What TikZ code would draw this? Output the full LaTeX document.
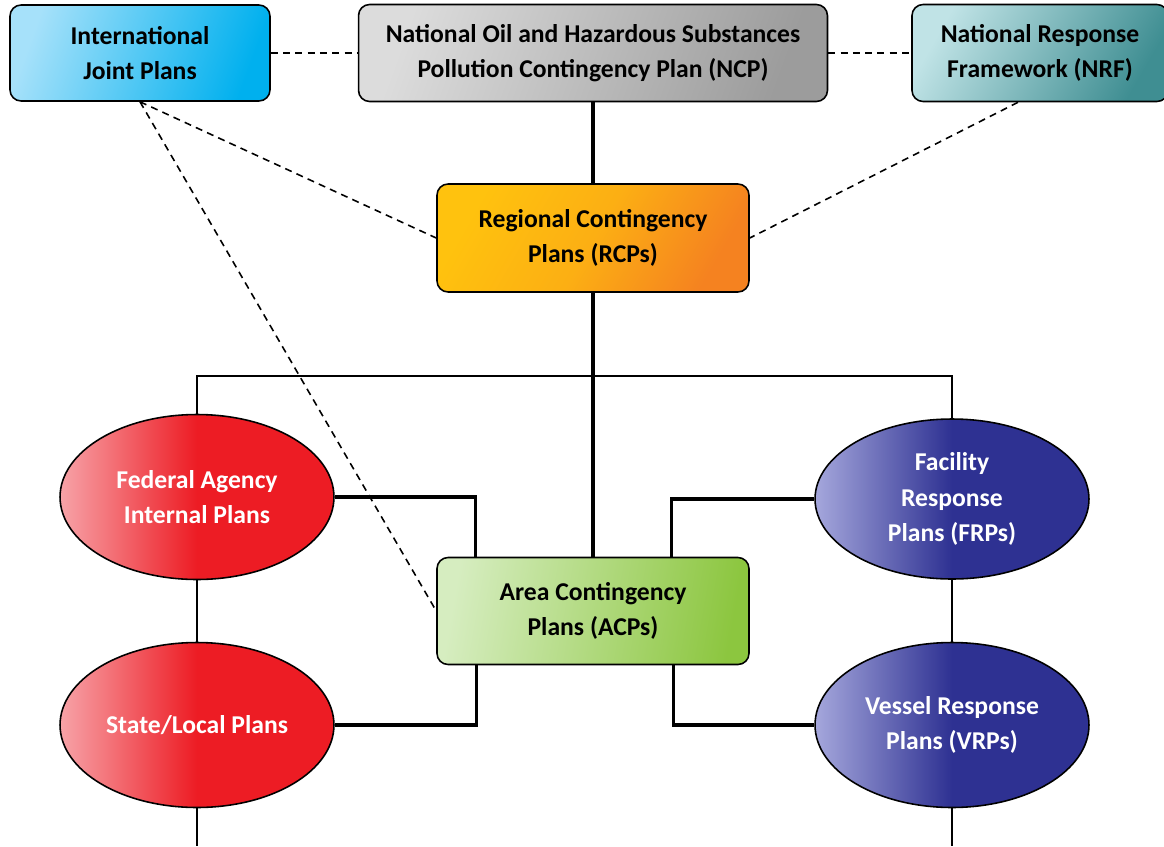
\documentclass[tikz,border=0pt]{standalone}
\usepackage{fontspec}
\setmainfont{Carlito}
\usetikzlibrary{shapes.geometric}

\definecolor{ijpA}{HTML}{A6E1FA}
\definecolor{ijpB}{HTML}{00B0EE}
\definecolor{ncpA}{HTML}{DCDCDC}
\definecolor{ncpB}{HTML}{9C9C9C}
\definecolor{nrfA}{HTML}{C0E3E6}
\definecolor{nrfB}{HTML}{3F8E92}
\definecolor{rcpA}{HTML}{FFC20E}
\definecolor{rcpB}{HTML}{F58220}
\definecolor{acpA}{HTML}{D6EDC0}
\definecolor{acpB}{HTML}{8CC63F}
\definecolor{redA}{HTML}{F7A3A8}
\definecolor{redB}{HTML}{ED1C24}
\definecolor{bluA}{HTML}{A5A7DC}
\definecolor{bluB}{HTML}{2E3192}

\newcommand{\plantext}{\fontsize{14.6}{20}\selectfont\bfseries}

\tikzset{
  planbox/.style={draw, line width=0.9pt, rounded corners=0.22cm, align=center,
    inner sep=0pt, font=\plantext},
  planoval/.style={ellipse, draw, line width=0.9pt, align=center, inner sep=0pt,
    minimum width=5.48cm, minimum height=3.3cm, text=white, font=\plantext},
  dashline/.style={line width=0.9pt, dash pattern=on 4pt off 3pt},
  thinline/.style={line width=0.6pt},
  thickline/.style={line width=1.8pt},
}

\begin{document}
\begin{tikzpicture}[x=0.02cm, y=-0.02cm]
                \useasboundingbox (0,0) rectangle (1164,846);
                \clip (0,0) rectangle (1164,846);
                % top row
                \node[planbox, minimum width=5.2cm, minimum height=1.92cm,
                  left color=ijpA, right color=ijpB, shading angle=70] (IJP) at (140,53) {International\\Joint Plans};
                \node[planbox, minimum width=9.38cm, minimum height=1.94cm,
                  left color=ncpA, right color=ncpB, shading angle=70] (NCP) at (593,53) {National Oil and Hazardous Substances\\Pollution Contingency Plan (NCP)};
                \node[planbox, minimum width=5.12cm, minimum height=1.94cm,
                  left color=nrfA, right color=nrfB, shading angle=60] (NRF) at (1040,53) {National Response\\Framework (NRF)};
                % middle boxes
                \node[planbox, minimum width=6.24cm, minimum height=2.16cm,
                  left color=rcpA, right color=rcpB, middle color=rcpA!70!rcpB, shading angle=60] (RCP) at (593,238) {Regional Contingency\\Plans (RCPs)};
                \node[planbox, minimum width=6.24cm, minimum height=2.14cm,
                  left color=acpA, right color=acpB, shading angle=80] (ACP) at (593,611) {Area Contingency\\Plans (ACPs)};
                % ellipses
                \node[planoval, left color=redA, right color=redB, middle color=redB] (FAP) at (197,497) {Federal Agency\\Internal Plans};
                \node[planoval, left color=redA, right color=redB, middle color=redB] (SLP) at (197,725) {State/Local Plans};
                \node[planoval, minimum height=3.2cm, left color=bluA, right color=bluB, middle color=bluB] (FRP) at (952,499) {Facility\\Response\\Plans (FRPs)};
                \node[planoval, left color=bluA, right color=bluB, middle color=bluB] (VRP) at (952,725) {Vessel Response\\Plans (VRPs)};
                \coordinate (T) at (593,376);
                \coordinate (SLend) at (197,846);
                \coordinate (VRend) at (952,846);
                % dashed links
                \draw[dashline] (IJP) -- (NCP);
                \draw[dashline] (NCP) -- (NRF);
                \draw[dashline] (IJP.south) -- (RCP.west);
                \draw[dashline] (IJP.south) -- (ACP.west);
                \draw[dashline] ([xshift=-0.44cm]NRF.south) -- (RCP.east);
                % spine
                \draw[thickline] (NCP) -- (RCP);
                \draw[thickline] (RCP) -- (ACP);
                % thin links
                \draw[thinline] (FAP.north) |- (T) -| (FRP.north);
                \draw[thinline] (FAP) -- (SLP);
                \draw[thinline] (SLP.south) -- (SLend);
                \draw[thinline] (FRP) -- (VRP);
                \draw[thinline] (VRP.south) -- (VRend);
                % thick links to ACP
                \draw[thickline] (FAP.east) -| ([xshift=0.78cm]ACP.north west);
                \draw[thickline] (SLP.east) -| ([xshift=0.8cm]ACP.south west);
                \draw[thickline] (FRP.west) -| ([xshift=-1.56cm]ACP.north east);
                \draw[thickline] (VRP.west) -| ([xshift=-1.52cm]ACP.south east);
            \end{tikzpicture}
\end{document}
